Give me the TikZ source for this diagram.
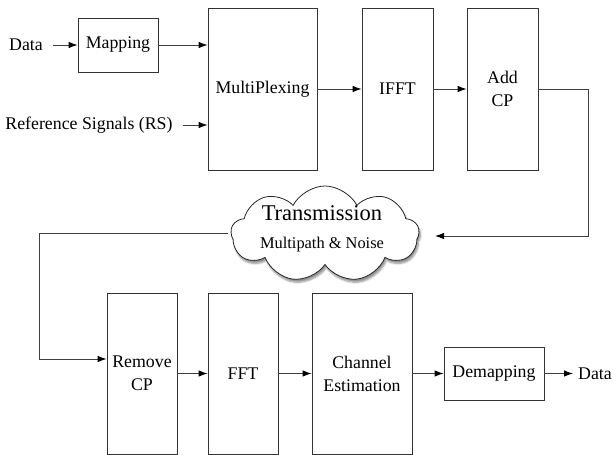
\documentclass[tikz,border=0pt]{standalone}
\usepackage{fontspec}
\setmainfont{Liberation Serif}
\usetikzlibrary{arrows.meta,shapes.symbols,shadows.blur}
\begin{document}
\begin{tikzpicture}[x=1pt,y=-1pt,
  blk/.style={draw=black!80,line width=0.8pt,fill=white,inner sep=0pt,align=center,
    font=\fontsize{17.8}{23}\selectfont},
  lbl/.style={inner sep=0pt,font=\fontsize{17.8}{23}\selectfont},
  conn/.style={draw=black!75,line width=0.9pt,-{Latex[length=9pt,width=6.5pt,color=black]}},
  wire/.style={draw=black!75,line width=0.9pt}]
\useasboundingbox (0,0) rectangle (613,455);

% transmitter chain
\node[lbl] (din) at (26,45) {Data};
\node[blk,minimum width=80pt,minimum height=54pt] (map) at (118,45) {Mapping};
\node[blk,minimum width=109pt,minimum height=162pt] (mux) at (262.5,89) {MultiPlexing};
\node[lbl] (rs) at (89,125) {Reference Signals (RS)};
\node[blk,minimum width=71pt,minimum height=162pt] (ifft) at (397.5,89) {IFFT};
\node[blk,minimum width=71pt,minimum height=162pt] (addcp) at (502.5,89) {Add\\CP};

% channel
\node[cloud,cloud puffs=9,cloud puff arc=125,aspect=2,draw=black!85,line width=0.8pt,
  fill=white,minimum width=188pt,minimum height=96pt,
  blur shadow={shadow xshift=1.5pt,shadow yshift=-3pt,shadow blur steps=6,shadow opacity=45}]
  (ch) at (325,234) {};
\node[inner sep=0pt,font=\fontsize{22.5}{26}\selectfont] (tx) at (322,213) {Transmission};
\node[inner sep=0pt,font=\fontsize{16.4}{20}\selectfont] (mp) at (322,245) {Multipath \& Noise};

% receiver chain
\node[blk,minimum width=70pt,minimum height=161pt] (rmcp) at (142,373.5) {Remove\\CP};
\node[blk,minimum width=70pt,minimum height=161pt] (fft) at (243,373.5) {FFT};
\node[blk,minimum width=100pt,minimum height=161pt] (chest) at (362,373.5) {Channel\\Estimation};
\node[blk,minimum width=100pt,minimum height=53pt] (demap) at (494,373.5) {Demapping};
\node[lbl,anchor=west] (dout) at (578,373.5) {Data};

% connectors
\coordinate (r1) at (588,89);
\coordinate (r2) at (588,236);
\coordinate (cin) at (435,236);
\coordinate (cout) at (228,233);
\coordinate (l1) at (39,233);
\coordinate (l2) at (39,359);

\draw[conn,shorten <=10pt] (din.east) -- (map.west);
\draw[conn] (map.east) -- (map.east -| mux.west);
\draw[conn,shorten <=10pt] (rs.east) -- (rs.east -| mux.west);
\draw[conn] (mux.east) -- (ifft.west);
\draw[conn] (ifft.east) -- (addcp.west);
\draw[conn] (addcp.east) -- (r1) -- (r2) -- (cin);
\draw[wire] (cout) -- (l1) -- (l2);
\draw[conn] (l2) -- (l2 -| rmcp.west);
\draw[conn] (rmcp.east) -- (fft.west);
\draw[conn] (fft.east) -- (chest.west);
\draw[conn] (chest.east) -- (demap.west);
\draw[conn] (demap.east) -- ([xshift=-5pt]dout.west);
\end{tikzpicture}
\end{document}
